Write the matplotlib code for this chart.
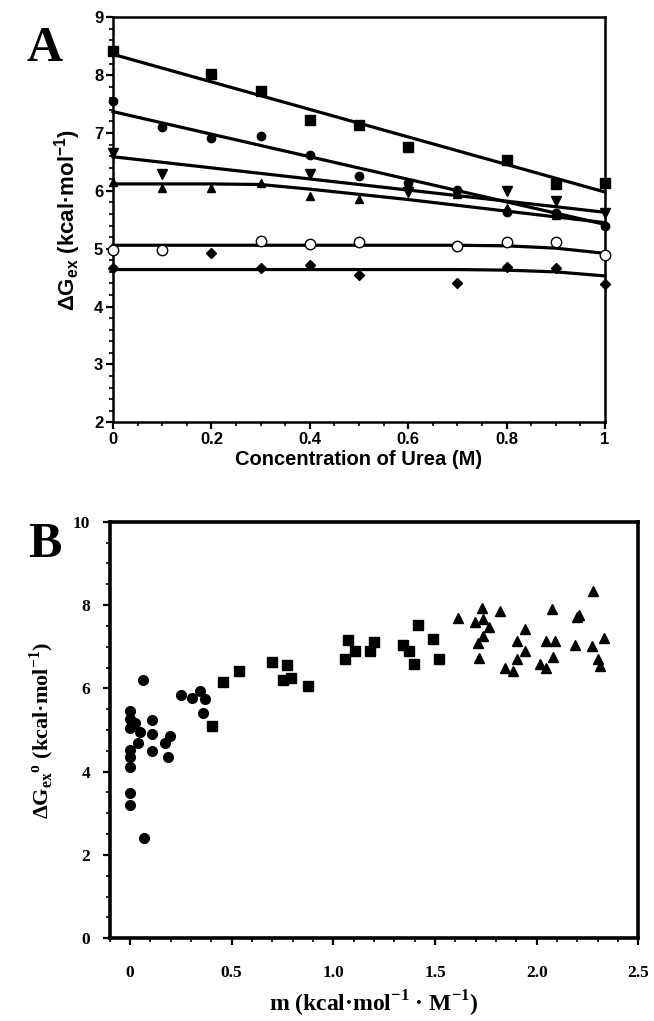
# %% ---- Requirements and constants
import numpy as np
import matplotlib
matplotlib.use("Agg")
import matplotlib.pyplot as plt
from matplotlib.ticker import MultipleLocator, FormatStrFormatter, FuncFormatter

SANS = "Liberation Sans"
SERIF = "Liberation Serif"

# ---- Panel A: exchange free energy vs urea (M)
sq_x = [0, 0.2, 0.3, 0.4, 0.5, 0.6, 0.8, 0.9, 1.0]
sq_y = [8.41, 8.02, 7.73, 7.23, 7.13, 6.75, 6.54, 6.12, 6.14]
ci_x = [0, 0.1, 0.2, 0.3, 0.4, 0.5, 0.6, 0.7, 0.8, 0.9, 1.0]
ci_y = [7.56, 7.11, 6.91, 6.94, 6.62, 6.25, 6.13, 6.02, 5.64, 5.62, 5.40]
vt_x = [0, 0.1, 0.4, 0.6, 0.8, 0.9, 1.0]
vt_y = [6.65, 6.29, 6.30, 5.98, 5.99, 5.82, 5.62]
ut_x = [0, 0.1, 0.2, 0.3, 0.4, 0.5, 0.7, 0.8, 0.9, 1.0]
ut_y = [6.16, 6.05, 6.05, 6.14, 5.91, 5.86, 5.95, 5.71, 5.58, 5.42]
oc_x = [0, 0.1, 0.3, 0.4, 0.5, 0.7, 0.8, 0.9, 1.0]
oc_y = [4.98, 4.98, 5.14, 5.08, 5.12, 5.04, 5.12, 5.12, 4.89]
di_x = [0, 0.2, 0.3, 0.4, 0.5, 0.7, 0.8, 0.9, 1.0]
di_y = [4.66, 4.93, 4.66, 4.72, 4.54, 4.40, 4.69, 4.66, 4.39]

# fitted curves
fit_sq_x, fit_sq_y = [0, 1.0], [8.36, 5.98]
fit_ci_x, fit_ci_y = [0, 1.0], [7.37, 5.42]
fit_vt_x, fit_vt_y = [0, 1.0], [6.59, 5.63]
fit_ut_x = [0, 0.2, 0.3, 0.4, 0.5, 0.6, 0.7, 0.8, 0.9, 1.0]
fit_ut_y = [6.12, 6.12, 6.11, 6.03, 5.94, 5.85, 5.75, 5.65, 5.55, 5.45]
fit_oc_x = [0, 0.7, 0.8, 0.9, 1.0]
fit_oc_y = [5.06, 5.06, 5.05, 5.01, 4.92]
fit_di_x = [0, 0.7, 0.8, 0.9, 1.0]
fit_di_y = [4.64, 4.64, 4.63, 4.60, 4.53]

# ---- Panel B: dG_ex(0) vs m value
bc_x = [0, 0, 0.025, 0, 0.05, 0.04, 0, 0, 0, 0, 0, 0.062, 0.069, 0.11, 0.108,
        0.107, 0.172, 0.197, 0.189, 0.252, 0.307, 0.344, 0.369, 0.357]
bc_y = [5.46, 5.26, 5.18, 5.04, 4.96, 4.69, 4.52, 4.34, 4.12, 3.48, 3.20, 6.19,
        2.40, 5.23, 4.91, 4.49, 4.69, 4.85, 4.36, 5.85, 5.76, 5.94, 5.74, 5.41]
bs_x = [0.403, 0.457, 0.538, 0.697, 0.77, 0.751, 0.792, 0.874, 1.074, 1.058,
        1.107, 1.181, 1.202, 1.345, 1.374, 1.399, 1.415, 1.489, 1.518]
bs_y = [5.10, 6.15, 6.41, 6.64, 6.56, 6.20, 6.25, 6.06, 7.16, 6.70,
        6.89, 6.89, 7.12, 7.04, 6.90, 6.58, 7.51, 7.18, 6.70]
bt_x = [1.615, 1.730, 1.697, 1.738, 1.767, 1.820, 1.738, 1.710, 1.714, 1.943,
        1.902, 1.943, 1.905, 1.845, 1.882, 2.074, 2.046, 2.091, 2.079, 2.017,
        2.046, 2.200, 2.210, 2.279, 2.189, 2.272, 2.331, 2.304, 2.312]
bt_y = [7.68, 7.94, 7.60, 7.66, 7.48, 7.86, 7.25, 7.08, 6.72, 7.42,
        7.13, 6.89, 6.71, 6.49, 6.41, 7.90, 7.14, 7.14, 6.76, 6.58,
        6.48, 7.72, 7.76, 8.33, 7.04, 7.01, 7.21, 6.70, 6.53]

# %% ---- Figure
fig = plt.figure(figsize=(6.54, 10.21), dpi=100)

# ---- panel A
ax = fig.add_axes([113 / 654, 598.7 / 1021, 492 / 654, 405 / 1021])
lw = 2.3
for fx, fy in [(fit_sq_x, fit_sq_y), (fit_ci_x, fit_ci_y), (fit_vt_x, fit_vt_y),
               (fit_ut_x, fit_ut_y), (fit_oc_x, fit_oc_y), (fit_di_x, fit_di_y)]:
    ax.plot(fx, fy, color="black", lw=lw, zorder=2, clip_on=False)

ax.plot(sq_x, sq_y, "s", color="black", ms=6.5, zorder=3, clip_on=False)
ax.plot(ci_x, ci_y, "o", color="black", ms=6, zorder=3, clip_on=False)
ax.plot(vt_x, vt_y, "v", color="black", ms=6.5, zorder=3, clip_on=False)
ax.plot(ut_x, ut_y, "^", color="black", ms=6, zorder=3, clip_on=False)
ax.plot(oc_x, oc_y, "o", mfc="white", mec="black", mew=1.0, ms=7.5,
        zorder=3, clip_on=False)
ax.plot(di_x, di_y, "D", color="black", ms=5.5, zorder=3, clip_on=False)

ax.set_xlim(0, 1)
ax.set_ylim(2, 9)
ax.xaxis.set_major_locator(MultipleLocator(0.2))
ax.xaxis.set_minor_locator(MultipleLocator(0.05))
ax.yaxis.set_major_locator(MultipleLocator(1))
ax.yaxis.set_minor_locator(MultipleLocator(0.2))
ax.xaxis.set_major_formatter(FuncFormatter(lambda v, p: "%g" % round(v, 2)))
for s in ax.spines.values():
    s.set_linewidth(1.8)
ax.tick_params(which="major", direction="out", length=5, width=1.6, pad=2,
               labelsize=12)
ax.tick_params(which="minor", direction="out", length=3, width=1.2)
for lab in ax.get_xticklabels() + ax.get_yticklabels():
    lab.set_fontfamily(SANS)
    lab.set_fontweight("bold")
ax.set_xlabel("Concentration of Urea (M)", fontfamily=SANS, fontweight="bold",
              fontsize=14.5, labelpad=2)
ax.set_ylabel(r"ΔG$_{\mathregular{ex}}$ (kcal·mol$^{\mathregular{-1}}$)",
              fontfamily=SANS, fontweight="bold", fontsize=16, labelpad=8)
fig.text(0.068, 0.952, "A", fontfamily=SERIF, fontweight="bold", fontsize=36,
         ha="center", va="center")

# ---- panel B
bx = fig.add_axes([109.7 / 654, 82.7 / 1021, 528.6 / 654, 416.6 / 1021])
bx.plot(bc_x, bc_y, "o", color="black", ms=7, zorder=3)
bx.plot(bs_x, bs_y, "s", color="black", ms=6.5, zorder=3)
bx.plot(bt_x, bt_y, "^", color="black", ms=6.5, zorder=3)

bx.set_xlim(-0.1, 2.5)
bx.set_ylim(0, 10)
bx.set_xticks([0, 0.5, 1.0, 1.5, 2.0, 2.5])
bx.set_xticklabels(["0", "0.5", "1.0", "1.5", "2.0", "2.5"])
bx.xaxis.set_minor_locator(MultipleLocator(0.1))
bx.yaxis.set_major_locator(MultipleLocator(2))
bx.yaxis.set_minor_locator(MultipleLocator(0.5))
bx.yaxis.set_major_formatter(FormatStrFormatter("%d"))
for s in bx.spines.values():
    s.set_linewidth(2.6)
bx.tick_params(which="major", direction="out", length=5, width=1.6,
               labelsize=12.5)
bx.tick_params(axis="x", which="major", pad=14)
bx.tick_params(axis="y", which="major", pad=9)
bx.tick_params(which="minor", direction="out", length=3, width=1.2)
for lab in bx.get_xticklabels() + bx.get_yticklabels():
    lab.set_fontfamily(SERIF)
    lab.set_fontweight("bold")
bx.set_xlabel(r"m (kcal·mol$^{\mathregular{-1}}$ · M$^{\mathregular{-1}}$)",
              fontfamily=SERIF, fontweight="bold", fontsize=17, labelpad=6)
bx.set_ylabel(r"ΔG$_{\mathregular{ex}}$$^{\mathregular{ o}}$ (kcal·mol$^{\mathregular{-1}}$)",
              fontfamily=SERIF, fontweight="bold", fontsize=16, labelpad=12)
fig.text(0.068, 0.466, "B", fontfamily=SERIF, fontweight="bold", fontsize=36,
         ha="center", va="center")

fig.savefig("out.png", dpi=100, facecolor="white")
